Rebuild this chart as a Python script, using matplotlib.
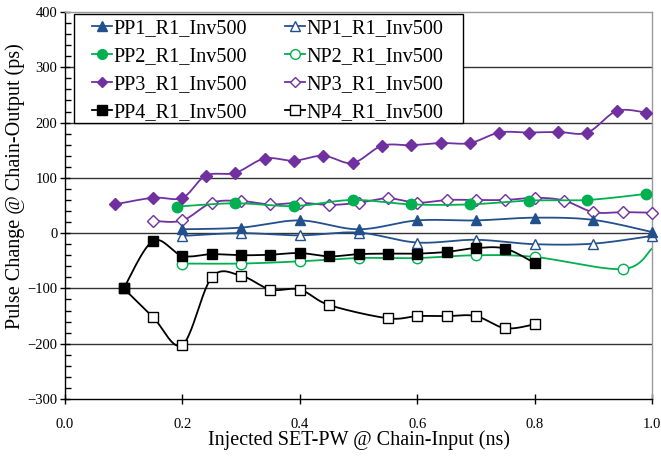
import numpy as np
import matplotlib

matplotlib.use("Agg")
import matplotlib.pyplot as plt
from matplotlib.patches import Rectangle
from matplotlib.ticker import MultipleLocator, FormatStrFormatter

plt.rcParams["font.family"] = ["Liberation Serif", "DejaVu Serif"]

# measured pulse change (ps) vs injected SET pulse width (ns)
pp1_x = [0.2, 0.3, 0.4, 0.5, 0.6, 0.7, 0.8, 0.9, 1.0]
pp1_y = [7, 10, 23, 7, 23, 23, 28, 24, 2]
np1_x = [0.2, 0.3, 0.4, 0.5, 0.6, 0.7, 0.8, 0.9, 1.0]
np1_y = [-5, 0, -4, 1, -17, -12, -20, -19, -5]

pp2_x = [0.19, 0.29, 0.39, 0.49, 0.59, 0.69, 0.79, 0.89, 0.99]
pp2_y = [48, 54, 49, 60, 52, 52, 59, 60, 71]
np2_x = [0.2, 0.3, 0.4, 0.5, 0.6, 0.7, 0.8, 0.95, 1.0]
np2_y = [-55, -55, -51, -45, -45, -40, -43, -65, -28]

pp3_x = [0.085, 0.15, 0.2, 0.24, 0.29, 0.34, 0.39, 0.44, 0.49, 0.54,
         0.59, 0.64, 0.69, 0.74, 0.79, 0.84, 0.89, 0.94, 0.99]
pp3_y = [52, 64, 64, 104, 109, 135, 131, 140, 127, 158,
         159, 163, 163, 182, 182, 183, 182, 221, 218]
np3_x = [0.15, 0.2, 0.25, 0.3, 0.35, 0.4, 0.45, 0.5, 0.55,
         0.6, 0.65, 0.7, 0.75, 0.8, 0.85, 0.9, 0.95, 1.0]
np3_y = [22, 23, 55, 58, 52, 55, 51, 55, 63,
         55, 60, 60, 60, 64, 59, 38, 38, 37]

pp4_x = [0.1, 0.15, 0.2, 0.25, 0.3, 0.35, 0.4, 0.45, 0.5,
         0.55, 0.6, 0.65, 0.7, 0.75, 0.8]
pp4_y = [-100, -14, -41, -38, -40, -39, -36, -42, -38,
         -37, -37, -34, -27, -28, -54]
np4_x = [0.1, 0.15, 0.2, 0.25, 0.3, 0.35, 0.4, 0.45,
         0.55, 0.6, 0.65, 0.7, 0.75, 0.8]
np4_y = [-100, -152, -202, -80, -77, -102, -102, -130,
         -154, -150, -150, -150, -172, -165]

BLUE = "#22508c"
GREEN = "#00b050"
PURPLE = "#7030a0"
BLACK = "#000000"


def smooth(xs, ys, n=24):
    """Catmull-Rom curve through the points, like a smoothed line chart."""
    p = np.column_stack([xs, ys]).astype(float)
    p = np.vstack([p[0], p, p[-1]])
    t = np.linspace(0, 1, n)[:, None]
    out = []
    for i in range(1, len(p) - 2):
        p0, p1, p2, p3 = p[i - 1], p[i], p[i + 1], p[i + 2]
        seg = 0.5 * ((2 * p1) + (-p0 + p2) * t
                     + (2 * p0 - 5 * p1 + 4 * p2 - p3) * t ** 2
                     + (-p0 + 3 * p1 - 3 * p2 + p3) * t ** 3)
        out.append(seg if i == 1 else seg[1:])
    c = np.vstack(out)
    return c[:, 0], c[:, 1]


series = [
    ("PP1_R1_Inv500", pp1_x, pp1_y, BLUE, "^", True),
    ("PP2_R1_Inv500", pp2_x, pp2_y, GREEN, "o", True),
    ("PP3_R1_Inv500", pp3_x, pp3_y, PURPLE, "D", True),
    ("PP4_R1_Inv500", pp4_x, pp4_y, BLACK, "s", True),
    ("NP1_R1_Inv500", np1_x, np1_y, BLUE, "^", False),
    ("NP2_R1_Inv500", np2_x, np2_y, GREEN, "o", False),
    ("NP3_R1_Inv500", np3_x, np3_y, PURPLE, "D", False),
    ("NP4_R1_Inv500", np4_x, np4_y, BLACK, "s", False),
]
marker_size = {"^": 7.5, "o": 7.5, "D": 6.5, "s": 7.5}
legend_size = {"^": 6.5, "o": 7, "D": 5.5, "s": 7}

W, H = 661, 461
fig = plt.figure(figsize=(W / 100, H / 100), dpi=100)
ax = fig.add_axes([65 / W, 62 / H, 587 / W, 387 / H])

for y in range(-200, 400, 100):
    ax.axhline(y, color="#333333", lw=1.0, zorder=0)

# open-marker series go underneath the filled ones
order = [4, 5, 6, 7, 0, 1, 2, 3]
handles = {}
for k in order:
    label, xs, ys, color, mk, filled = series[k]
    sx, sy = smooth(xs, ys)
    ax.plot(sx, sy, color=color, lw=1.3, zorder=2 + filled)
    # the NP2 curve runs into the right edge without a visible marker
    shown = [i for i, xv in enumerate(xs) if not (label.startswith("NP2") and xv >= 1.0)]
    ax.plot(np.asarray(xs)[shown], np.asarray(ys)[shown], ls="none",
            marker=mk, ms=marker_size[mk],
            mfc=color if filled else "white", mec=color, mew=1.0,
            zorder=3 + filled, clip_on=False)
    h, = ax.plot([], [], color=color, lw=1.3, marker=mk, ms=legend_size[mk],
                 mfc=color if filled else "white", mec=color, mew=1.0)
    handles[k] = h

ax.set_xlim(0, 1.0)
ax.set_ylim(-300, 400)
ax.xaxis.set_major_locator(MultipleLocator(0.2))
ax.yaxis.set_major_locator(MultipleLocator(100))
ax.yaxis.set_minor_locator(MultipleLocator(20))
ax.xaxis.set_major_formatter(FormatStrFormatter("%.1f"))
ax.tick_params(axis="y", which="major", direction="inout", length=7, width=1,
               labelsize=10.5, pad=2)
ax.tick_params(axis="y", which="minor", direction="in", length=4, width=1)
ax.tick_params(axis="x", which="major", direction="inout", length=7, width=1,
               labelsize=10.5, pad=10)
for side in ("left", "bottom"):
    ax.spines[side].set_color("black")
    ax.spines[side].set_linewidth(1.0)
for side in ("top", "right"):
    ax.spines[side].set_color("#999999")
    ax.spines[side].set_linewidth(1.0)

ax.set_xlabel("Injected SET-PW @ Chain-Input (ns)", fontsize=14.5, labelpad=0)
ax.set_ylabel("Pulse Change @ Chain-Output (ps)", fontsize=14.5)
ax.yaxis.set_label_coords(-0.068, 0.55)

leg = fig.legend([handles[k] for k in range(8)], [s[0] for s in series],
                 ncol=2, loc="upper left", bbox_to_anchor=(92 / W, 1 - 19 / H),
                 bbox_transform=fig.transFigure, fontsize=14.6, frameon=False,
                 handlelength=1.0, handletextpad=0.08, columnspacing=1.85,
                 borderpad=0, borderaxespad=0, labelspacing=0.44)
leg.set_zorder(10)
fig.add_artist(Rectangle((74 / W, 1 - 123 / H), (463 - 74) / W, (123 - 14) / H,
                         transform=fig.transFigure, facecolor="white",
                         edgecolor="black", lw=1.0, zorder=9))

fig.savefig("out.png", dpi=100)
